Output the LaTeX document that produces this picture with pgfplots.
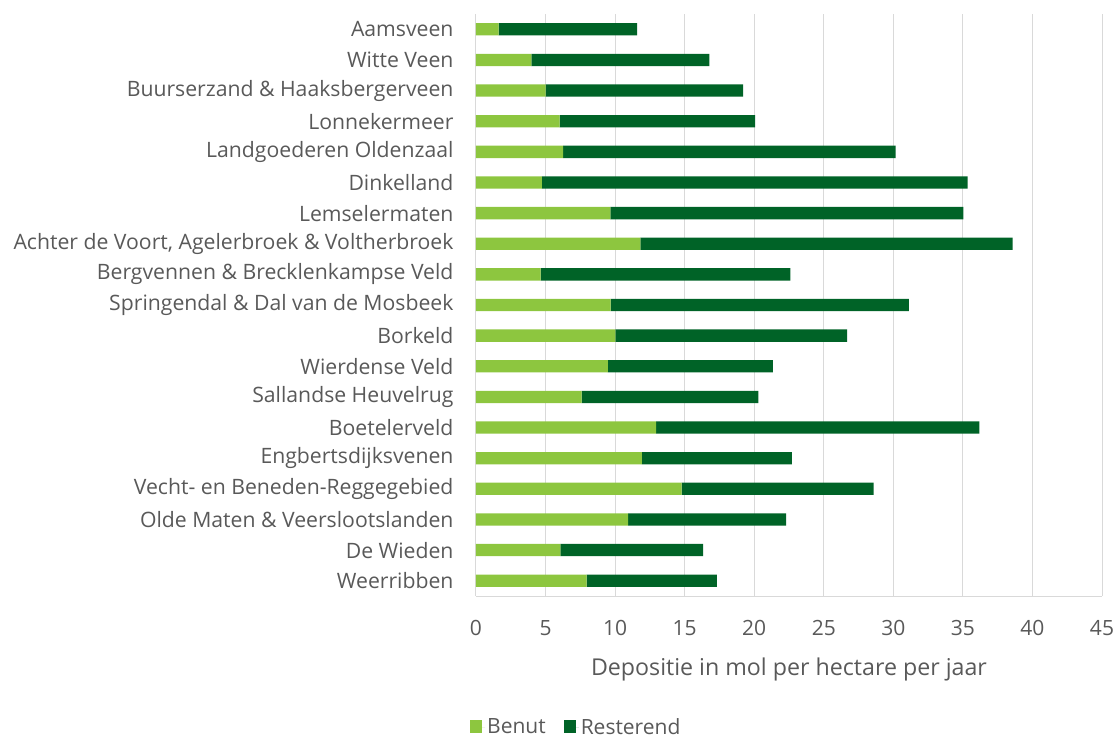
\documentclass[border=0pt]{standalone}
\usepackage{fontspec}
\setmainfont{Open Sans}
\usepackage{pgfplots}
\pgfplotsset{compat=1.18}
\definecolor{benut}{HTML}{8DC63F}
\definecolor{rest}{HTML}{006327}
\definecolor{txt}{HTML}{595959}
\definecolor{gridc}{HTML}{D9D9D9}
\newcommand\lbl{\fontsize{21.2}{25}\selectfont}
\newcommand\tlbl{\fontsize{21}{25}\selectfont}
\newcommand\albl{\fontsize{23.2}{27}\selectfont}
\begin{document}
\begin{tikzpicture}
\begin{axis}[
  at={(0,0)}, anchor=south west,
  scale only axis, width=626pt, height=582pt,
  xbar stacked, bar width=12.3pt,
  xmin=0, xmax=45, xtick={0,5,...,45},
  ymin=-0.5, ymax=18.5, y dir=reverse,
  ytick={0,...,18},
  yticklabels={Aamsveen, Witte Veen, Buurserzand \& Haaksbergerveen, Lonnekermeer, Landgoederen Oldenzaal, Dinkelland, Lemselermaten, {Achter de Voort, Agelerbroek \& Voltherbroek}, Bergvennen \& Brecklenkampse Veld, Springendal \& Dal van de Mosbeek, Borkeld, Wierdense Veld, Sallandse Heuvelrug, Boetelerveld, Engbertsdijksvenen, Vecht- en Beneden-Reggegebied, Olde Maten \& Veerslootslanden, De Wieden, Weerribben},
  axis x line*=bottom, axis y line*=left,
  axis line style={draw=gridc, line width=1pt, -},
  xmajorgrids, grid style={draw=gridc, line width=1pt},
  major tick length=0pt,
  /pgf/number format/assume math mode=true,
  xticklabel style={font=\tlbl, text=txt, yshift=-21pt},
  yticklabel style={font=\lbl, text=txt, xshift=-19pt},
  xlabel={Depositie in mol per hectare per jaar},
  xlabel style={font=\albl, text=txt, yshift=-15pt},
  legend style={at={(-0.0096,-0.2251)}, anchor=west, draw=none, fill=none,
    legend columns=2, font=\tlbl, text=txt, inner sep=0pt,
    /tikz/every even column/.append style={column sep=16pt}},
  legend image code/.code={\fill[#1] (0pt,-6pt) rectangle (12pt,7pt); \path (0pt,0pt) -- (15pt,0pt);},
]
\addplot[fill=benut, draw=none] coordinates {
(1.62,0) (3.98,1) (5.01,2) (6.01,3) (6.27,4) (4.73,5) (9.66,6) (11.81,7) (4.65,8) (9.68,9)
(10.02,10) (9.48,11) (7.60,12) (12.94,13) (11.92,14) (14.79,15) (10.94,16) (6.06,17) (7.96,18)};
\addplot[fill=rest, draw=none] coordinates {
(9.96,0) (12.79,1) (14.20,2) (14.05,3) (23.90,4) (30.61,5) (25.37,6) (26.76,7) (17.95,8) (21.44,9)
(16.66,10) (11.86,11) (12.69,12) (23.24,13) (10.78,14) (13.79,15) (11.35,16) (10.27,17) (9.35,18)};
\legend{Benut, Resterend}
\end{axis}
\pgfresetboundingbox
\path[use as bounding box] (-476pt,-144pt) rectangle (639pt,596pt);
\end{tikzpicture}
\end{document}
